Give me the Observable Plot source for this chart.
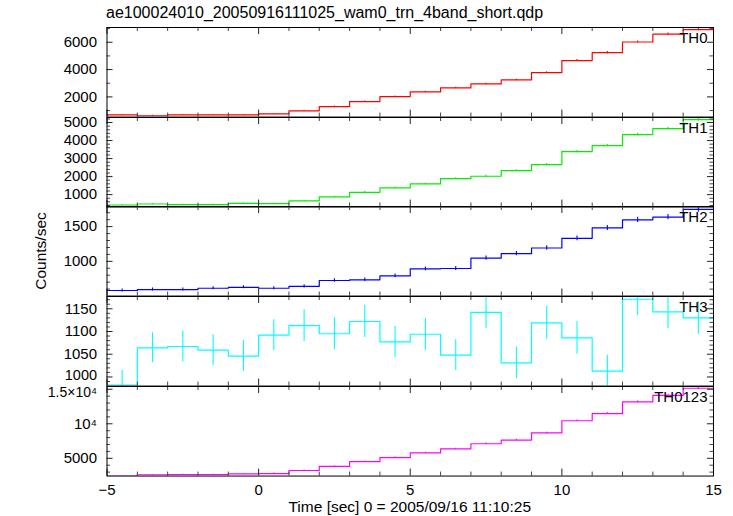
<!DOCTYPE html>
<html><head><meta charset="utf-8">
<script src="https://cdn.jsdelivr.net/npm/d3@7"></script>
<script src="https://cdn.jsdelivr.net/npm/@observablehq/plot@0.6"></script>
<style>
body{margin:0;background:#fff;}
#wrap{position:relative;width:733px;height:516px;font-family:"Liberation Sans",Arial,sans-serif;overflow:hidden;}
#wrap svg{position:absolute;left:0;overflow:visible;}
</style></head><body><div id="wrap"></div>
<script>
// ---- data (1-second bins, start times) ----
const binStart = [-5,-4,-3,-2,-1,0,1,2,3,4,5,6,7,8,9,10,11,12,13,14];
const th0 = [685,620,690,690,690,760,980,1290,1660,2020,2370,2660,2950,3240,3780,4660,5240,6020,6590,6930];
const th0Err = [30,30,30,30,30,30,35,40,45,50,50,55,55,60,65,70,75,80,80,85];
const th1 = [426,481,444,444,519,500,648,870,1130,1370,1593,1889,2019,2333,2667,3389,3722,4333,4667,5167];
const th1Err = [25,25,25,25,25,25,30,35,40,40,45,45,50,50,55,60,65,70,70,75];
const th2 = [580,593,593,612,626,612,640,724,734,790,892,897,1047,1112,1192,1332,1481,1598,1636,1748];
const th2Err = [22,22,22,22,22,22,24,25,25,26,28,28,30,31,32,34,36,38,38,40];
const th3 = [982,1064,1067,1059,1046,1092,1113,1095,1122,1077,1094,1048,1142,1031,1119,1086,1013,1171,1143,1130];
const th3Err = [32,33,34,34,34,34,35,35,35,34,35,34,35,35,36,36,35,36,37,36];
const th0123 = [2451,2598,2647,2647,2745,2794,3235,3824,4510,5098,5784,6373,7108,7647,8676,10441,11471,13186,14118,15147];
const th0123Err = [60,60,60,60,60,60,65,70,75,80,85,90,95,100,105,115,120,130,135,140];

// ---- axes ----
const xDomain = [-5, 15];
const xMajor = [-5, 0, 5, 10, 15];
const xMinor = [-4,-3,-2,-1,1,2,3,4,6,7,8,9,11,12,13,14];
const th0Domain = [525, 7080], th0Ticks = [2000,4000,6000], th0Labels = ["2000","4000","6000"], th0Minor = [1000,3000,5000,7000];
const th1Domain = [311, 5280], th1Ticks = [1000,2000,3000,4000,5000], th1Labels = ["1000","2000","3000","4000","5000"],
      th1Minor = [400,600,800,1200,1400,1600,1800,2200,2400,2600,2800,3200,3400,3600,3800,4200,4400,4600,4800,5200];
const th2Domain = [500, 1790], th2Ticks = [1000,1500], th2Labels = ["1000","1500"], th2Minor = [600,700,800,900,1100,1200,1300,1400,1600,1700];
const th3Domain = [980, 1177], th3Ticks = [1000,1050,1100,1150], th3Labels = ["1000","1050","1100","1150"],
      th3Minor = [990,1010,1020,1030,1040,1060,1070,1080,1090,1110,1120,1130,1140,1160,1170];
const th0123Domain = [2430, 15400], th0123Ticks = [5000,10000,15000], th0123Labels = ["5000","10\u2074","1.5\u00d710\u2074"],
      th0123Minor = [3000,4000,6000,7000,8000,9000,11000,12000,13000,14000];

const panels = [
  {name:"TH0", values:th0, err:th0Err, color:"#ff0000", domain:th0Domain, ticks:th0Ticks, labels:th0Labels, minor:th0Minor},
  {name:"TH1", values:th1, err:th1Err, color:"#00ee00", domain:th1Domain, ticks:th1Ticks, labels:th1Labels, minor:th1Minor},
  {name:"TH2", values:th2, err:th2Err, color:"#0000ff", domain:th2Domain, ticks:th2Ticks, labels:th2Labels, minor:th2Minor},
  {name:"TH3", values:th3, err:th3Err, color:"#00ffff", domain:th3Domain, ticks:th3Ticks, labels:th3Labels, minor:th3Minor, shiftTick:1000, shiftDy:-2, shiftSize:14.5},
  {name:"TH0123", values:th0123, err:th0123Err, color:"#ff00ff", domain:th0123Domain, ticks:th0123Ticks, labels:th0123Labels, minor:th0123Minor, shiftTick:15000, shiftDy:3, shiftSize:14}
];

const W = 733, mL = 106.5, mR = 20, fw = W - mL - mR;
const top0 = 27.3, pH = 89.55, pad = 14;
const wrap = document.getElementById("wrap");

panels.forEach((p, i) => {
  const last = i === panels.length - 1;
  const mb = last ? 45 : pad;
  const rows = binStart.map((x0, k) => ({x0, xc: x0 + 0.5, v: p.values[k], e: p.err[k]}));
  const stepPts = rows.map(r => ({x: r.x0, v: r.v}));
  stepPts.push({x: binStart[binStart.length - 1] + 1, v: p.values[p.values.length - 1]});
  const labelMap = new Map(p.ticks.map((t, k) => [t, p.labels[k]]));
  const plainTicks = p.ticks.filter(t => t !== p.shiftTick);
  const marks = [
    Plot.lineY(stepPts, {x: "x", y: "v", curve: "step-after", stroke: p.color, strokeWidth: 1.2, clip: true}),
    Plot.ruleX(rows, {x: "xc", y1: d => d.v - d.e, y2: d => d.v + d.e, stroke: p.color, strokeWidth: 1.1, clip: true}),
    Plot.ruleY(p.ticks, {insetRight: fw - 6, stroke: "#222"}),
    Plot.ruleY(p.ticks, {insetLeft: fw - 6, stroke: "#222"}),
    Plot.ruleY(p.minor, {insetRight: fw - 3.5, stroke: "#444"}),
    Plot.ruleY(p.minor, {insetLeft: fw - 3.5, stroke: "#444"}),
    Plot.ruleX(xMajor, {insetBottom: pH - 7, stroke: "#222"}),
    Plot.ruleX(xMajor, {insetTop: pH - 7, stroke: "#222"}),
    Plot.ruleX(xMinor, {insetBottom: pH - 4, stroke: "#444"}),
    Plot.ruleX(xMinor, {insetTop: pH - 4, stroke: "#444"}),
    Plot.axisY(plainTicks, {tickSize: 0, tickPadding: 10, fontSize: 15, label: null, tickFormat: d => labelMap.get(d)}),
    Plot.text([p.name], {text: d => d, frameAnchor: "top-right", textAnchor: "end", lineAnchor: "top", dx: -6, dy: 5, fontSize: 15, fill: "#000"}),
    Plot.frame({stroke: "#000"})
  ];
  if (p.shiftTick !== undefined) {
    marks.push(Plot.axisY([p.shiftTick], {tickSize: 0, tickPadding: 10, fontSize: p.shiftSize, dy: p.shiftDy, label: null, tickFormat: d => labelMap.get(d)}));
  }
  if (last) marks.push(Plot.axisX(xMajor, {tickSize: 0, tickPadding: 8, fontSize: 15, label: null}));
  const svg = Plot.plot({
    width: W, height: pH + pad + mb,
    marginLeft: mL, marginRight: mR, marginTop: pad, marginBottom: mb,
    x: {domain: xDomain, axis: last ? undefined : null},
    y: {domain: p.domain},
    style: {background: "transparent", overflow: "visible", fontFamily: "'Liberation Sans', Arial, sans-serif"},
    marks
  });
  svg.style.top = (top0 + i * pH - pad) + "px";
  wrap.appendChild(svg);
});

// ---- overlay text ----
const ns = "http://www.w3.org/2000/svg";
const ov = document.createElementNS(ns, "svg");
ov.setAttribute("width", W); ov.setAttribute("height", 516);
ov.style.top = "0px";
ov.setAttribute("font-family", "'Liberation Sans', Arial, sans-serif");
function addText(str, attrs) {
  const t = document.createElementNS(ns, "text");
  for (const k in attrs) t.setAttribute(k, attrs[k]);
  t.textContent = str;
  ov.appendChild(t);
}
addText("ae100024010_20050916111025_wam0_trn_4band_short.qdp", {x: 106, y: 18, "font-size": 16});
addText("Time [sec] 0 = 2005/09/16 11:10:25", {x: (mL + W - mR) / 2, y: 512, "font-size": 15.5, "text-anchor": "middle"});
addText("Counts/sec", {transform: "translate(46,251) rotate(-90)", "font-size": 15.5, "text-anchor": "middle"});
wrap.appendChild(ov);
</script></body></html>
